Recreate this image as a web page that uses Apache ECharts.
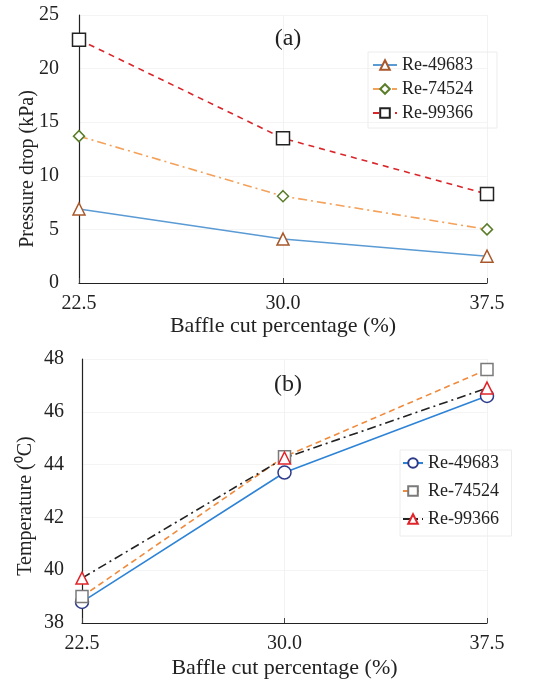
<!DOCTYPE html>
<html>
<head>
<meta charset="utf-8">
<script src="https://cdn.jsdelivr.net/npm/echarts@6/dist/echarts.min.js"></script>
<style>
  html, body { margin: 0; padding: 0; background: #fff; }
  #chart { width: 542px; height: 681px; }
</style>
</head>
<body>
<div id="chart"></div>
<script>
// baffle cut percentage (%)
const baffleCut = [22.5, 30.0, 37.5]
const seriesNames = ['Re-49683', 'Re-74524', 'Re-99366']

// (a) pressure drop, kPa
const pressure49683 = [6.9, 4.1, 2.5]
const pressure74524 = [13.7, 8.1, 5.0]
const pressure99366 = [22.7, 13.5, 8.3]

// (b) temperature, degC
const temp49683 = [38.8, 43.7, 46.6]
const temp74524 = [39.0, 44.3, 47.6]
const temp99366 = [39.7, 44.25, 46.9]

const FONT = 'Liberation Serif'
const pair = (ys) => baffleCut.map((x, i) => [x, ys[i]])

function xAxisFor(gridIndex) {
  return {
    type: 'value',
    gridIndex,
    min: 22.5,
    max: 37.5,
    interval: 7.5,
    name: 'Baffle cut percentage (%)',
    nameLocation: 'middle',
    nameGap: gridIndex === 0 ? 31 : 34,
    nameTextStyle: { fontFamily: FONT, fontSize: 22, color: '#222' },
    axisLine: { lineStyle: { color: '#222', width: 1.2 } },
    axisTick: { show: true, inside: true, length: 5, lineStyle: { color: '#444' } },
    axisLabel: {
      fontFamily: FONT, fontSize: 20, color: '#222', margin: 11,
      formatter: (v) => v.toFixed(1),
    },
    splitLine: { show: true, lineStyle: { color: '#f2f2f2' } },
  }
}

function yAxisFor(gridIndex, opts) {
  return Object.assign({
    type: 'value',
    gridIndex,
    nameLocation: 'middle',
    nameRotate: 90,
    nameMoveOverlap: false,
    axisLine: { show: true, lineStyle: { color: '#222', width: 1.2 } },
    axisTick: { show: false },
    axisLabel: { fontFamily: FONT, fontSize: 20, color: '#222', margin: 20 },
    splitLine: { show: true, lineStyle: { color: '#f4f4f4' } },
  }, opts)
}

function lineSeries(name, data, idx, lineColor, lineType, symbol, symbolSize, markColor) {
  return {
    name,
    type: 'line',
    xAxisIndex: idx,
    yAxisIndex: idx,
    data: pair(data),
    symbol,
    symbolSize,
    showSymbol: true,
    lineStyle: { color: lineColor, width: 1.6, type: lineType },
    itemStyle: { color: '#fff', borderColor: markColor, borderWidth: 1.5 },
    z: 3,
  }
}

const dashDot = [9, 4, 2, 4]

const chart = echarts.init(document.getElementById('chart'))
chart.setOption({
  backgroundColor: '#fff',
  animation: false,
  title: [
    { text: '(a)', left: 283, top: 22, textAlign: 'center',
      textStyle: { fontFamily: FONT, fontSize: 24, fontWeight: 'normal', color: '#222' } },
    { text: '(b)', left: 283, top: 368, textAlign: 'center',
      textStyle: { fontFamily: FONT, fontSize: 24, fontWeight: 'normal', color: '#222' } },
  ],
  legend: [
    {
      data: seriesNames.map((n) => ({ name: n })),
      left: 368, top: 52, orient: 'vertical',
      itemWidth: 24, itemHeight: 12, itemGap: 6,
      textStyle: { fontFamily: FONT, fontSize: 18, color: '#222' },
      borderColor: '#ececec', borderWidth: 1, padding: [4, 24, 6, 4],
      selectedMode: false,
    },
    {
      data: seriesNames.map((n) => ({ name: n + ' ' })),
      left: 400, top: 450, orient: 'vertical',
      itemWidth: 20, itemHeight: 12, itemGap: 10,
      textStyle: { fontFamily: FONT, fontSize: 18, color: '#222' },
      borderColor: '#ececec', borderWidth: 1, padding: [4, 8, 8, 2],
      selectedMode: false,
    },
  ],
  grid: [
    { left: 79, top: 15, right: 55, height: 268 },
    { left: 82, top: 359, right: 55, height: 264 },
  ],
  xAxis: [xAxisFor(0), xAxisFor(1)],
  yAxis: [
    yAxisFor(0, { min: 0, max: 25, interval: 5, name: 'Pressure drop (kPa)', nameGap: 41,
      nameTextStyle: { fontFamily: FONT, fontSize: 20, color: '#222', padding: [0, 40, 0, 0] } }),
    yAxisFor(1, { min: 38, max: 48, interval: 2, name: 'Temperature (\u2070C)', nameGap: 46,
      nameTextStyle: { fontFamily: FONT, fontSize: 20, color: '#222', padding: [0, 30, 0, 0] },
      axisLabel: { fontFamily: FONT, fontSize: 20, color: '#222', margin: 18 } }),
  ],
  series: [
    lineSeries('Re-49683', pressure49683, 0, '#5b9bd5', 'solid', 'triangle', 12, '#a9582b'),
    lineSeries('Re-74524', pressure74524, 0, '#f4a15a', dashDot, 'diamond', 11, '#5a7d2a'),
    lineSeries('Re-99366', pressure99366, 0, '#d9262b', [6, 5], 'rect', 13, '#222'),
    lineSeries('Re-49683 ', temp49683, 1, '#2d83d6', 'solid', 'circle', 13, '#2c3a8a'),
    lineSeries('Re-74524 ', temp74524, 1, '#f08a3c', [6, 4], 'rect', 12, '#7a7a7a'),
    lineSeries('Re-99366 ', temp99366, 1, '#222', dashDot, 'triangle', 12, '#e0242a'),
  ],
})
</script>
</body>
</html>
